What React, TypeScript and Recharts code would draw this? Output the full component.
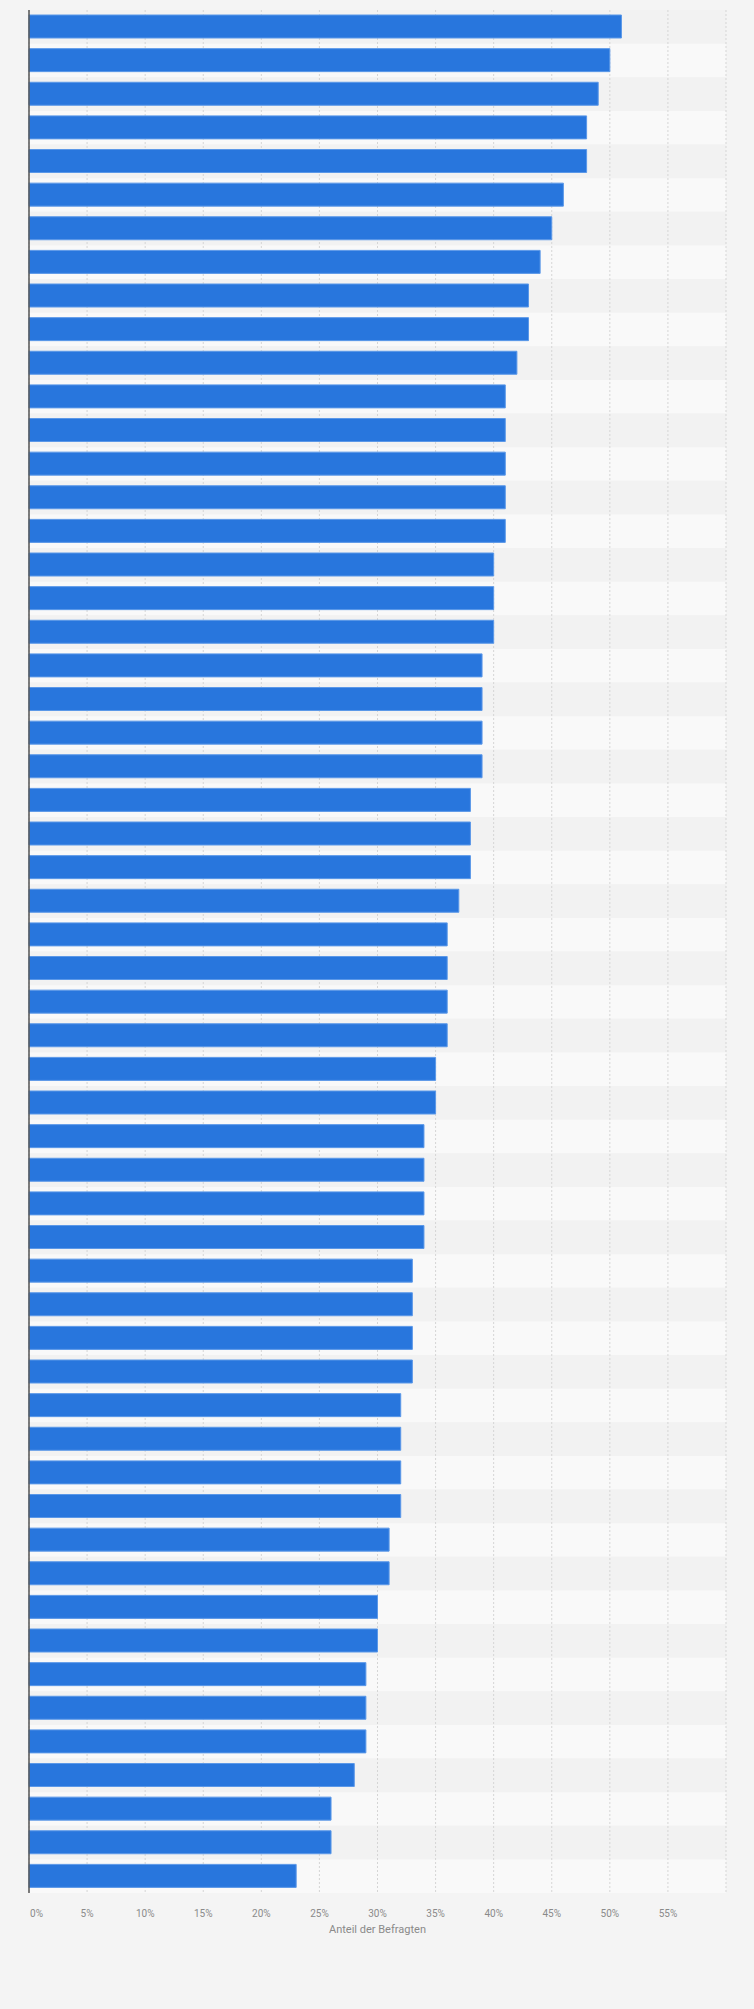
import { Bar, BarChart, CartesianGrid, ReferenceArea, ReferenceLine, XAxis, YAxis } from 'recharts'

// share of respondents per item (%), top to bottom
const shares = [
  51, 50, 49, 48, 48, 46, 45, 44, 43, 43, 42,
  41, 41, 41, 41, 41,
  40, 40, 40,
  39, 39, 39, 39,
  38, 38, 38,
  37,
  36, 36, 36, 36,
  35, 35,
  34, 34, 34, 34,
  33, 33, 33, 33,
  32, 32, 32, 32,
  31, 31,
  30, 30,
  29, 29, 29,
  28,
  26, 26,
  23,
]

const xTicks = [0, 5, 10, 15, 20, 25, 30, 35, 40, 45, 50, 55, 60]

const rows = shares.map((value, i) => ({ name: `Item ${i + 1}`, value }))

function PercentTick(props: any) {
  const { x, y, payload } = props
  if (payload.value === 60) return null
  const first = payload.value === 0
  return (
    <text
      x={first ? x + 1 : x}
      y={y}
      dy="0.71em"
      textAnchor={first ? 'start' : 'middle'}
      fill="#8a8a8a"
      fontSize={10}
      fontFamily="Roboto, Arial, sans-serif"
    >
      {payload.value}%
    </text>
  )
}

export default function App() {
  return (
    <div
      style={{
        position: 'absolute',
        left: 0,
        top: 0,
        width: 754,
        height: 2009,
        background: '#f4f4f4',
      }}
    >
      <BarChart
        width={754}
        height={1950}
        data={rows}
        layout="vertical"
        margin={{ top: 10, right: 28, bottom: 0, left: 29 }}
        barSize={23}
      >
        {rows.map((r, i) => (
          <ReferenceArea
            key={r.name}
            y1={r.name}
            y2={r.name}
            fill={i % 2 === 0 ? '#f2f2f2' : '#f9f9f9'}
            fillOpacity={1}
            stroke="none"
            ifOverflow="visible"
            zIndex={-150}
          />
        ))}
        <CartesianGrid
          horizontal={false}
          stroke="#d5d5d5"
          strokeDasharray="2 2"
        />
        <XAxis
          type="number"
          domain={[0, 60]}
          ticks={xTicks}
          axisLine={false}
          tickLine={false}
          tickMargin={11}
          height={57}
          tick={<PercentTick />}
          interval={0}
          label={{
            value: 'Anteil der Befragten',
            position: 'insideBottom',
            offset: 17,
            fill: '#8a8a8a',
            fontSize: 11,
            fontFamily: 'Roboto, Arial, sans-serif',
          }}
        />
        <YAxis
          type="category"
          dataKey="name"
          width={0}
          tick={false}
          tickLine={false}
          axisLine={false}
        />
        <Bar
          dataKey="value"
          fill="#2876dd"
          stroke="#5b98e8"
          strokeWidth={1}
          isAnimationActive={false}
        />
        <ReferenceLine x={0} stroke="#555555" strokeWidth={1.5} zIndex={1000} />
      </BarChart>
    </div>
  )
}
